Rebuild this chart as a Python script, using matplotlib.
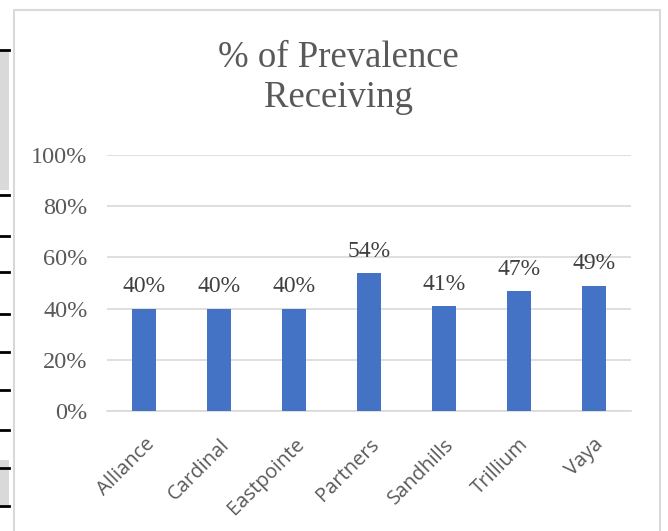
import matplotlib.pyplot as plt
from matplotlib.patches import Rectangle
from matplotlib.lines import Line2D
from matplotlib.transforms import ScaledTranslation

categories = ['Alliance', 'Cardinal', 'Eastpointe', 'Partners', 'Sandhills', 'Trillium', 'Vaya']
values = [0.40, 0.40, 0.40, 0.54, 0.41, 0.47, 0.49]
yticks = [0, 0.2, 0.4, 0.6, 0.8, 1.0]

W, H = 668, 531
fig = plt.figure(figsize=(W / 100, H / 100), dpi=100)

# chart border (screenshot of a spreadsheet chart)
fig.add_artist(Rectangle((14 / W, -0.05), (660 - 14) / W, 1 - 10 / H + 0.05,
                         transform=fig.transFigure, fill=False,
                         edgecolor='#d9d9d9', linewidth=1.5))

# leftover bits of the sheet on the left edge
fig.add_artist(Rectangle((0, 1 - 190 / H), 9 / W, 140 / H, transform=fig.transFigure,
                         facecolor='#d9d9d9', edgecolor='none'))
fig.add_artist(Rectangle((0, 1 - 505 / H), 9 / W, 45 / H, transform=fig.transFigure,
                         facecolor='#d9d9d9', edgecolor='none'))
for yy in [50, 195, 236, 272, 314, 352, 390, 430, 468, 506]:
    fig.add_artist(Line2D([0, 9 / W], [1 - yy / H] * 2, transform=fig.transFigure,
                          color='black', linewidth=2))

ax = fig.add_axes([107 / W, 120 / H, 524 / W, 256 / H])
x = range(len(categories))
ax.bar(x, values, width=0.32, color='#4472C4', zorder=3)

for xi, v in zip(x, values):
    ax.annotate(f'{round(v * 100)}%', (xi, v), xytext=(0, 8), textcoords='offset points',
                ha='center', va='bottom', family='Liberation Serif', fontsize=17,
                color='#404040')

ax.set_xlim(-0.5, len(categories) - 0.5)
ax.set_ylim(0, 1)
ax.set_yticks(yticks)
ax.set_yticklabels([f'{int(t * 100)}%' for t in yticks], family='Liberation Serif',
                   fontsize=17.5, color='#595959')
ax.set_xticks(list(x))
ax.set_xticklabels(categories, rotation=45, ha='right', rotation_mode='anchor',
                   family='Open Sans', fontsize=14.5, color='#595959')
shift = ScaledTranslation(-9 / 100, 0, fig.dpi_scale_trans)
for lab in ax.get_xticklabels():
    lab.set_transform(lab.get_transform() + shift)
ax.tick_params(length=0, axis='both')
ax.tick_params(axis='y', pad=14)
ax.tick_params(axis='x', pad=17)
ax.grid(axis='y', color='#d9d9d9', linewidth=1.2, zorder=0)
for s in ['top', 'right', 'left']:
    ax.spines[s].set_visible(False)
ax.spines['bottom'].set_color('#d9d9d9')
ax.spines['bottom'].set_linewidth(1.2)

fig.text(338 / W, 1 - 78 / H, '% of Prevalence\nReceiving', ha='center', va='center',
         family='Liberation Serif', fontsize=26.5, color='#595959', linespacing=1.2)

fig.savefig('out.png', dpi=100)
